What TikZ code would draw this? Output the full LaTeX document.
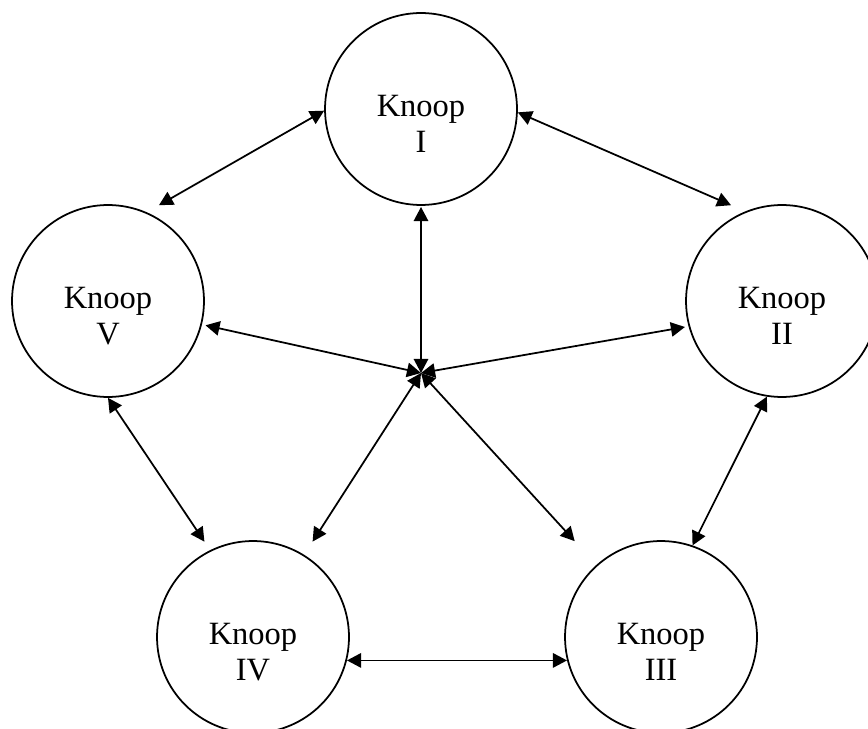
\documentclass[tikz,border=0pt]{standalone}
\usepackage{fontspec}
\setmainfont{Liberation Serif}
\usetikzlibrary{arrows.meta,
                calc
                }

\tikzset{
  knoop/.style={circle, draw, line width=1pt, minimum size=3.84cm, inner sep=0pt},
  tekst/.style={align=center, font=\fontsize{18.5}{20.4}\selectfont, inner sep=0pt},
  pijl/.style={>={Triangle[length=8pt,width=8.2pt]}, <->, line width=1pt}
}

\begin{document}
\begin{tikzpicture}[x=0.02cm, y=-0.02cm]
            %frame
            \clip (0,0) rectangle (868,729);

            %nodes
            \foreach \n/\x/\y in {I/421/109, II/782/301, III/661/637, IV/253/637, V/108/301} {
                \node[knoop] (\n) at (\x,\y) {};
                \node[tekst] (t\n) at (\x,\y+15) {Knoop\\\n};
            }
            \coordinate (hub) at (421,373);

            %outer arrows
            \draw[pijl] ($(V)+(62:2.17cm)$) -- (I.181);
            \draw[pijl] (I.358) -- ($(II)+(118:2.17cm)$);
            \draw[pijl] (II.261) -- (III.71);
            \draw[pijl] (IV.-14) -- (III.194);
            \draw[pijl] (V.270) -- ($(IV)+(117:2.14cm)$);

            %arrows to the middle
            \foreach \n/\a/\r in {I/270/1.96cm, V/-14/2.01cm, II/195/2.01cm, IV/58/2.25cm, III/132/2.58cm}
                \draw[pijl] ($(\n)+(\a:\r)$) -- (hub);
\end{tikzpicture}
\end{document}
